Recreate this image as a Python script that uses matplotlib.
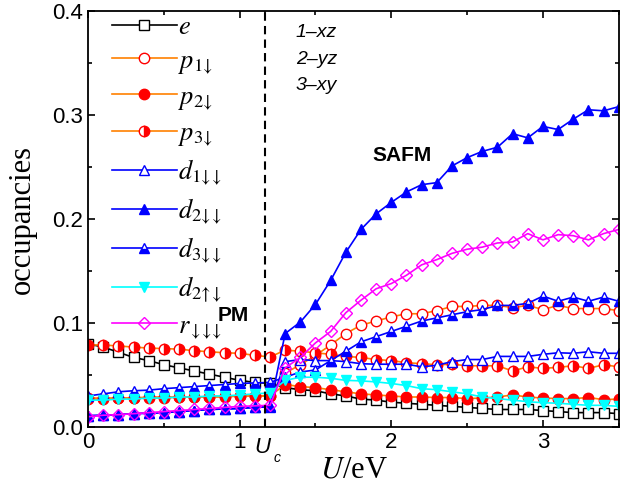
import matplotlib

matplotlib.use("Agg")

import matplotlib.pyplot as plt
from matplotlib.ticker import MultipleLocator, FormatStrFormatter

plt.rcParams["font.family"] = "Liberation Sans"
plt.rcParams["mathtext.fontset"] = "stix"

# U (eV) grid
U = [0.0, 0.1, 0.2, 0.3, 0.4, 0.5, 0.6, 0.7, 0.8, 0.9, 1.0, 1.1, 1.2,
     1.3, 1.4, 1.5, 1.6, 1.7, 1.8, 1.9, 2.0, 2.1, 2.2, 2.3, 2.4, 2.5,
     2.6, 2.7, 2.8, 2.9, 3.0, 3.1, 3.2, 3.3, 3.4, 3.5]
U_c = 1.17

e = [0.080, 0.077, 0.072, 0.067, 0.064, 0.060, 0.057, 0.054, 0.051, 0.048, 0.045, 0.043, 0.042,
     0.038, 0.036, 0.035, 0.032, 0.030, 0.027, 0.026, 0.024, 0.023, 0.022, 0.021, 0.020, 0.019,
     0.018, 0.017, 0.017, 0.017, 0.016, 0.015, 0.014, 0.014, 0.014, 0.013]
p1 = [0.028, 0.028, 0.028, 0.028, 0.029, 0.029, 0.029, 0.029, 0.029, 0.030, 0.030, 0.030, 0.030,
      0.052, 0.060, 0.069, 0.079, 0.090, 0.098, 0.102, 0.106, 0.109, 0.109, 0.112, 0.116, 0.116,
      0.117, 0.117, 0.115, 0.117, 0.113, 0.117, 0.114, 0.114, 0.114, 0.112]
p2 = [0.027, 0.027, 0.028, 0.028, 0.028, 0.028, 0.029, 0.029, 0.029, 0.029, 0.030, 0.030, 0.030,
      0.041, 0.039, 0.038, 0.036, 0.034, 0.032, 0.031, 0.030, 0.029, 0.029, 0.0285, 0.0285, 0.0275,
      0.028, 0.029, 0.031, 0.029, 0.028, 0.0275, 0.0275, 0.0285, 0.0265, 0.027]
p3 = [0.079, 0.079, 0.078, 0.077, 0.076, 0.0755, 0.075, 0.0735, 0.0725, 0.0715, 0.071, 0.069, 0.0675,
      0.074, 0.073, 0.0715, 0.070, 0.068, 0.067, 0.065, 0.064, 0.062, 0.061, 0.060, 0.0605, 0.059,
      0.059, 0.059, 0.054, 0.058, 0.0565, 0.0575, 0.059, 0.0565, 0.060, 0.058]
d1 = [0.011, 0.0115, 0.012, 0.013, 0.0135, 0.014, 0.015, 0.016, 0.017, 0.0175, 0.018, 0.019, 0.020,
      0.063, 0.065, 0.064, 0.064, 0.063, 0.061, 0.0605, 0.0605, 0.0605, 0.058, 0.0595, 0.063, 0.065,
      0.065, 0.068, 0.068, 0.068, 0.070, 0.0715, 0.071, 0.0725, 0.071, 0.071]
d2 = [0.011, 0.0115, 0.012, 0.013, 0.0135, 0.014, 0.015, 0.016, 0.017, 0.0175, 0.018, 0.019, 0.0195,
      0.090, 0.101, 0.118, 0.141, 0.168, 0.190, 0.205, 0.216, 0.226, 0.233, 0.235, 0.251, 0.259,
      0.265, 0.269, 0.282, 0.278, 0.289, 0.286, 0.296, 0.305, 0.304, 0.308]
d3 = [0.030, 0.032, 0.034, 0.035, 0.0356, 0.037, 0.038, 0.039, 0.040, 0.041, 0.042, 0.0425, 0.043,
      0.048, 0.053, 0.055, 0.064, 0.073, 0.082, 0.087, 0.092, 0.097, 0.102, 0.105, 0.108, 0.111,
      0.113, 0.117, 0.117, 0.119, 0.126, 0.121, 0.125, 0.121, 0.125, 0.121]
d2ud = [0.026, 0.026, 0.027, 0.027, 0.028, 0.028, 0.029, 0.029, 0.030, 0.030, 0.031, 0.032, 0.033,
        0.045, 0.048, 0.048, 0.047, 0.045, 0.0445, 0.0435, 0.042, 0.040, 0.037, 0.036, 0.034, 0.032,
        0.029, 0.0275, 0.026, 0.0245, 0.0235, 0.023, 0.022, 0.021, 0.021, 0.020]
r = [0.010, 0.0115, 0.012, 0.013, 0.014, 0.015, 0.016, 0.017, 0.018, 0.019, 0.020, 0.0205, 0.021,
     0.057, 0.067, 0.081, 0.092, 0.110, 0.122, 0.133, 0.138, 0.146, 0.156, 0.161, 0.167, 0.171,
     0.173, 0.177, 0.178, 0.186, 0.180, 0.185, 0.184, 0.180, 0.186, 0.190]

labels = [r"$e$", r"$p_{1\!\downarrow}$", r"$p_{2\!\downarrow}$", r"$p_{3\!\downarrow}$",
          r"$d_{1\!\downarrow\!\!\downarrow}$", r"$d_{2\!\downarrow\!\!\downarrow}$",
          r"$d_{3\!\downarrow\!\!\downarrow}$", r"$d_{2\!\uparrow\!\!\downarrow}$",
          r"$r_{\downarrow\!\!\downarrow\!\!\downarrow}$"]

ORANGE = "#ff8000"
series = [
    (e, dict(color="black", marker="s", mfc="white", mec="black")),
    (p1, dict(color=ORANGE, marker="o", mfc="white", mec="red")),
    (p2, dict(color=ORANGE, marker="o", mfc="red", mec="red")),
    (p3, dict(color=ORANGE, marker="o", mfc="red", mec="red", fillstyle="right",
              markerfacecoloralt="white")),
    (d1, dict(color="blue", marker="^", mfc="white", mec="blue")),
    (d2, dict(color="blue", marker="^", mfc="blue", mec="blue")),
    (d3, dict(color="blue", marker="^", mfc="blue", mec="blue", fillstyle="bottom",
              markerfacecoloralt="white")),
    (d2ud, dict(color="cyan", marker="v", mfc="cyan", mec="cyan")),
    (r, dict(color="magenta", marker="D", mfc="none", mec="magenta", ms=6.5)),
]

fig = plt.figure(figsize=(6.2, 4.95), dpi=100)
ax = fig.add_axes([0.142, 0.137, 0.856, 0.841])

for (vals, style), lab in zip(series, labels):
    kw = dict(lw=1.2, ms=7.5, mew=1.0)
    kw.update(style)
    ax.plot(U, vals, label=lab, **kw)

ax.axvline(U_c, color="black", lw=1.5, dashes=(4, 2.5))

ax.set_xlim(0, 3.5)
ax.set_ylim(0, 0.4)
ax.set_xticks([0, 1, U_c, 2, 3])
ax.set_xticklabels(["0", "1", "", "2", "3"])
ax.xaxis.set_minor_locator(MultipleLocator(0.5))
ax.yaxis.set_major_locator(MultipleLocator(0.1))
ax.yaxis.set_minor_locator(MultipleLocator(0.05))
ax.yaxis.set_major_formatter(FormatStrFormatter("%.1f"))
ax.tick_params(which="both", direction="in", top=True, right=True, width=1.2)
ax.tick_params(which="major", length=5, labelsize=16)
ax.tick_params(which="minor", length=3)
for sp in ax.spines.values():
    sp.set_linewidth(1.3)

# U_c tick label: italic sans U with subscript c
ax.annotate("U", xy=(U_c, 0), xycoords=("data", "axes fraction"), xytext=(-2, -7),
            textcoords="offset points", fontsize=16, fontstyle="italic",
            ha="center", va="top")
ax.annotate("c", xy=(U_c, 0), xycoords=("data", "axes fraction"), xytext=(5.5, -17),
            textcoords="offset points", fontsize=10, fontstyle="italic",
            ha="left", va="top")

ax.set_ylabel("occupancies", family="Liberation Serif", fontsize=22, labelpad=11)
ax.set_xlabel(r"$U$/eV", family="Liberation Serif", fontsize=22, labelpad=2)

for txt, yy in [("1\u2013xz", 0.379), ("2\u2013yz", 0.353), ("3\u2013xy", 0.328)]:
    ax.text(1.37, yy, txt, fontsize=14, fontstyle="italic", va="center")
ax.text(2.07, 0.2615, "SAFM", fontsize=15, fontweight="bold", ha="center", va="center")
ax.text(0.96, 0.107, "PM", fontsize=15, fontweight="bold", ha="center", va="center")

ax.legend(loc="upper left", bbox_to_anchor=(0.02, 1.02), frameon=False,
          prop={"family": "Liberation Serif", "size": 19},
          handlelength=2.45, handletextpad=0.05, labelspacing=0.36, borderaxespad=0.1)

fig.savefig("out.png", dpi=100)
plt.close(fig)
